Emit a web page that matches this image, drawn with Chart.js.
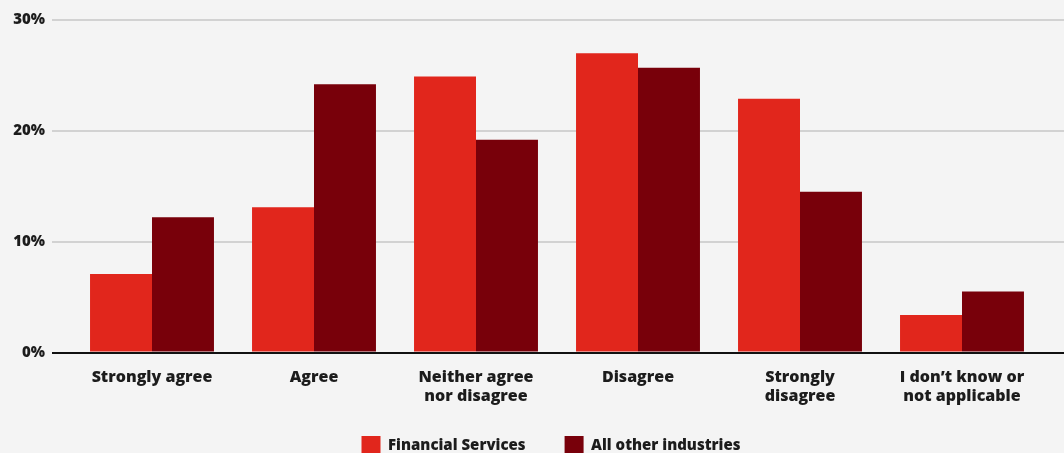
<!DOCTYPE html>
<html>
<head>
<meta charset="utf-8">
<script src="https://cdn.jsdelivr.net/npm/chart.js@4.4.1/dist/chart.umd.min.js"></script>
<style>
  html, body { margin: 0; padding: 0; background: #f4f4f4; overflow: hidden; }
  #wrap { width: 1064px; height: 481px; position: relative; }
</style>
</head>
<body>
<div id="wrap"><canvas id="surveyChart"></canvas></div>
<script>
// survey answers, share of respondents (%)
const categories = [
    'Strongly agree',
    'Agree',
    ['Neither agree', 'nor disagree'],
    'Disagree',
    ['Strongly', 'disagree'],
    ['I don\u2019t know or', 'not applicable']
];
const financialServices = [7.1, 13.1, 24.9, 27.0, 22.9, 3.4];
const otherIndustries = [12.2, 24.2, 19.2, 25.7, 14.5, 5.5];
const yTicks = [0, 10, 20, 30];

const RED = '#e1261c';
const DARK = '#78000a';
const INK = '#1c1c1c';
const FONT = '"Open Sans"';

// legend padding also pads vertically, so pull the row back up under the labels
const legendNudge = {
    id: 'legendNudge',
    afterLayout(chart) {
        const l = chart.legend;
        if (!l) return;
        l.top -= 16;
        l.bottom -= 16;
        l.left -= 6;
        l.right -= 6;
    }
};

function init() {
    const ctx = document.getElementById('surveyChart').getContext('2d');

    new Chart(ctx, {
        type: 'bar',
        data: {
            labels: categories,
            datasets: [
                { label: 'Financial Services', data: financialServices, backgroundColor: RED },
                { label: 'All other industries', data: otherIndustries, backgroundColor: DARK }
            ]
        },
        plugins: [legendNudge],
        options: {
            responsive: true,
            maintainAspectRatio: false,
            animation: false,
            categoryPercentage: 0.765,
            barPercentage: 1,
            layout: { padding: { top: 20, left: 0, right: 0, bottom: 0 } },
            plugins: {
                tooltip: { enabled: false },
                legend: {
                    position: 'bottom',
                    fullSize: false,
                    labels: {
                        boxWidth: 19,
                        boxHeight: 19,
                        padding: 39,
                        color: INK,
                        font: { family: FONT, size: 15, weight: 800 }
                    }
                }
            },
            scales: {
                x: {
                    grid: { display: false },
                    border: { display: false },
                    ticks: {
                        color: INK,
                        padding: 7,
                        maxRotation: 0,
                        font: { family: FONT, size: 16, weight: 800, lineHeight: 1.2 }
                    }
                },
                y: {
                    min: 0,
                    max: 30,
                    afterFit: (s) => { s.width = 71; },
                    afterBuildTicks: (s) => { s.ticks = yTicks.map(v => ({ value: v })); },
                    border: { display: false },
                    grid: {
                        lineWidth: 2,
                        tickLength: 19,
                        color: (c) => (c.tick && c.tick.value === 0 ? '#111' : '#d2d2d2')
                    },
                    ticks: {
                        color: INK,
                        padding: 7,
                        font: { family: FONT, size: 15, weight: 800 },
                        callback: (v) => v + '%'
                    }
                },
                // right-hand stub so the grid lines run to the canvas edge
                yRight: {
                    position: 'right',
                    min: 0,
                    max: 30,
                    afterFit: (s) => { s.width = 21; },
                    afterBuildTicks: (s) => { s.ticks = yTicks.map(v => ({ value: v })); },
                    border: { display: false },
                    grid: {
                        lineWidth: 2,
                        tickLength: 21,
                        drawOnChartArea: false,
                        color: (c) => (c.tick && c.tick.value === 0 ? '#111' : '#d2d2d2')
                    },
                    ticks: { display: false }
                }
            }
        }
    });
}

document.addEventListener('DOMContentLoaded', init);
</script>
</body>
</html>
